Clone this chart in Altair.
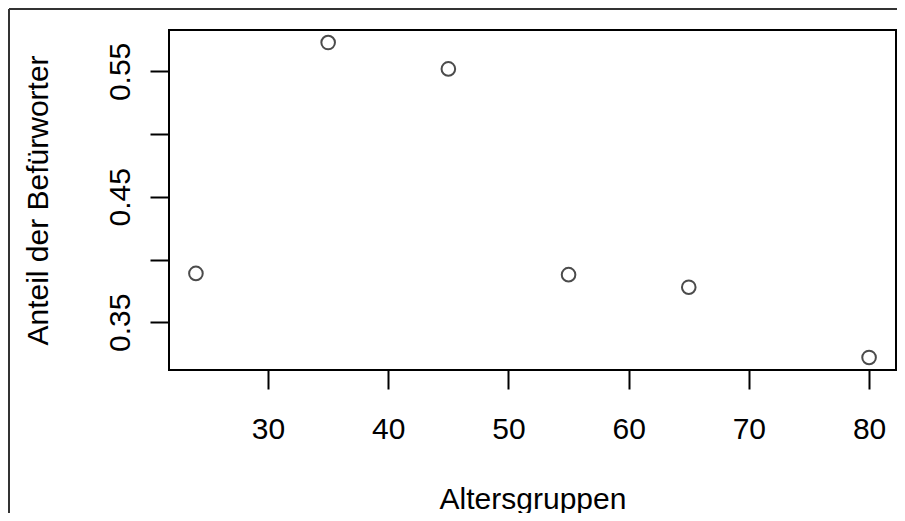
import altair as alt
import pandas as pd

ages = [24, 35, 45, 55, 65, 80]
shares = [0.389, 0.573, 0.552, 0.388, 0.378, 0.322]
x_ticks = [30, 40, 50, 60, 70, 80]
y_ticks = [0.35, 0.40, 0.45, 0.50, 0.55]

df = pd.DataFrame({"Altersgruppen": ages, "Anteil": shares})

W, H = 727, 340
FONT = "Liberation Sans"
FS = 30

points = alt.Chart(df).mark_point(
    shape="circle", filled=False, size=185, stroke="black", strokeWidth=2
).encode(
    x=alt.X(
        "Altersgruppen:Q",
        scale=alt.Scale(domain=[21.76, 82.24], nice=False, zero=False),
        axis=alt.Axis(
            values=x_ticks, title="Altersgruppen", grid=False, domain=False,
            tickSize=19, tickWidth=2, tickColor="black",
            labelFont=FONT, labelFontSize=FS, labelColor="black",
            labelBaseline="alphabetic", labelPadding=49, labelFlush=False,
            titleFont=FONT, titleFontSize=FS, titleFontWeight="normal",
            titleColor="black", titleBaseline="alphabetic",
            titleX=W / 2, titleY=138, titleAlign="center",
        ),
    ),
    y=alt.Y(
        "Anteil:Q",
        scale=alt.Scale(domain=[0.312, 0.583], nice=False, zero=False),
        axis=alt.Axis(
            values=y_ticks, title="Anteil der Befürworter", grid=False, domain=False,
            tickSize=19, tickWidth=2, tickColor="black",
            labelFont=FONT, labelFontSize=FS, labelColor="black",
            labelAngle=270, labelAlign="center", labelBaseline="alphabetic",
            labelPadding=21, labelFlush=False,
            labelExpr="round(datum.value*100) % 10 == 5 ? format(datum.value, '.2f') : ''",
            titleFont=FONT, titleFontSize=FS, titleFontWeight="normal",
            titleColor="black", titleBaseline="alphabetic", titleAngle=270,
            titleX=-122, titleY=H / 2, titleAlign="center",
        ),
    ),
)

frame_data = alt.Data(values=[{}])
left_line = alt.Chart(frame_data).mark_rule(color="#333333", strokeWidth=2).encode(
    x=alt.value(-160), y=alt.value(-21), y2=alt.value(700)
)
top_line = alt.Chart(frame_data).mark_rule(color="#333333", strokeWidth=2).encode(
    x=alt.value(-160), x2=alt.value(1000), y=alt.value(-21)
)

chart = alt.layer(left_line, top_line, points).properties(
    width=W, height=H,
    background="white",
    autosize=alt.AutoSizeParams(type="none"),
    padding={"left": 161, "top": 22, "right": 1, "bottom": 143},
).configure_view(stroke="black", strokeWidth=2)

chart.save("out.html", embed_options={"renderer": "svg", "actions": False})
